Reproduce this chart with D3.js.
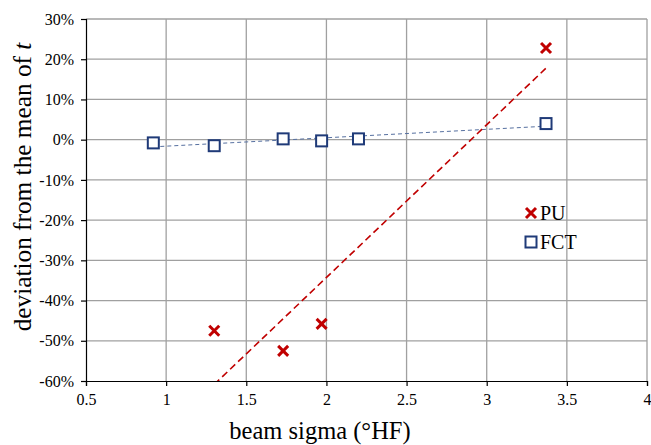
<!DOCTYPE html>
<html>
<head>
<meta charset="utf-8">
<script src="https://cdn.jsdelivr.net/npm/d3@7"></script>
<style>
  body { margin: 0; background: #fff; }
  svg, svg text { display: block; font-family: "Liberation Serif", "Times New Roman", serif; }
</style>
</head>
<body>
<svg id="chart" width="651" height="445"></svg>
<script>
// data
const puSigma = [1.30, 1.73, 1.97, 3.37];
const puDev = [-0.475, -0.525, -0.458, 0.228];
const fctSigma = [0.92, 1.30, 1.73, 1.97, 2.20, 3.37];
const fctDev = [-0.008, -0.015, 0.002, -0.003, 0.002, 0.040];
const xTicks = [0.5, 1, 1.5, 2, 2.5, 3, 3.5, 4];
const yTicks = [-0.6, -0.5, -0.4, -0.3, -0.2, -0.1, 0, 0.1, 0.2, 0.3];

const svg = d3.select("#chart");
const m = { left: 86, right: 4, top: 19, bottom: 64 };
const W = 651, H = 445;

const x = d3.scaleLinear().domain([0.5, 4]).range([m.left, W - m.right]);
const y = d3.scaleLinear().domain([-0.6, 0.3]).range([H - m.bottom, m.top]);

// gridlines
svg.append("g").selectAll("line").data(yTicks.slice(1)).enter().append("line")
  .attr("x1", x(0.5)).attr("x2", x(4))
  .attr("y1", d => y(d)).attr("y2", d => y(d))
  .attr("stroke", "#a0a0a0").attr("stroke-width", 1.3);
svg.append("g").selectAll("line").data(xTicks.slice(1)).enter().append("line")
  .attr("y1", y(-0.6)).attr("y2", y(0.3))
  .attr("x1", d => x(d)).attr("x2", d => x(d))
  .attr("stroke", "#a0a0a0").attr("stroke-width", 1.3);

// axes
const fmtPct = d => Math.round(d * 100) + "%";
const yAxis = svg.append("g").attr("transform", `translate(${x(0.5)},0)`)
  .call(d3.axisLeft(y).tickValues(yTicks).tickFormat(fmtPct).tickSize(5).tickPadding(7));
const xAxis = svg.append("g").attr("transform", `translate(0,${y(-0.6)})`)
  .call(d3.axisBottom(x).tickValues(xTicks).tickFormat(d3.format("")).tickSize(5).tickPadding(8));
[xAxis, yAxis].forEach(a => {
  a.attr("font-family", null).attr("font-size", null);
  a.selectAll("path, line").attr("stroke", "#000").attr("stroke-width", 1.2);
  a.selectAll("text").style("font-family", "'Liberation Serif', serif").style("font-size", "16px").attr("fill", "#000");
});

// linear trendlines (least squares over each series)
function fit(xs, ys) {
  const mx = d3.mean(xs), my = d3.mean(ys);
  const sxy = d3.sum(xs, (v, i) => (v - mx) * (ys[i] - my));
  const sxx = d3.sum(xs, v => (v - mx) * (v - mx));
  const b = sxy / sxx;
  return v => my + b * (v - mx);
}

svg.append("clipPath").attr("id", "plot").append("rect")
  .attr("x", x(0.5)).attr("y", y(0.3)).attr("width", x(4) - x(0.5)).attr("height", y(-0.6) - y(0.3));

const fctFit = fit(fctSigma, fctDev);
const puFit = fit(puSigma, puDev);
const trend = d3.line().x(d => x(d[0])).y(d => y(d[1]));

svg.append("path").attr("clip-path", "url(#plot)")
  .attr("d", trend(d3.extent(fctSigma).map(v => [v, fctFit(v)])))
  .attr("fill", "none").attr("stroke", "#5670a0").attr("stroke-width", 1)
  .attr("stroke-dasharray", "4,3");
svg.append("path").attr("clip-path", "url(#plot)")
  .attr("d", trend(d3.extent(puSigma).map(v => [v, puFit(v)])))
  .attr("fill", "none").attr("stroke", "#c00000").attr("stroke-width", 1.6)
  .attr("stroke-dasharray", "7,4");

// markers
const red = "#c00000", navy = "#1f3a78";
function cross(g, cx, cy) {
  const s = 5;
  g.append("path").attr("d", `M${cx - s},${cy - s}L${cx + s},${cy + s}M${cx - s},${cy + s}L${cx + s},${cy - s}`)
    .attr("stroke", red).attr("stroke-width", 3).attr("fill", "none");
}
function square(g, cx, cy) {
  g.append("rect").attr("x", cx - 5.5).attr("y", cy - 5.5).attr("width", 11).attr("height", 11)
    .attr("fill", "#fff").attr("stroke", navy).attr("stroke-width", 2);
}
const marks = svg.append("g");
fctSigma.forEach((v, i) => square(marks, x(v), y(fctDev[i])));
puSigma.forEach((v, i) => cross(marks, x(v), y(puDev[i])));

// legend
const leg = svg.append("g");
cross(leg, 531, 213);
leg.append("text").attr("x", 540).attr("y", 219.5).attr("font-size", 20).text("PU");
square(leg, 531, 242);
leg.append("text").attr("x", 540).attr("y", 249).attr("font-size", 20).text("FCT");

// axis titles
svg.append("text").attr("x", 320).attr("y", 439).attr("text-anchor", "middle")
  .attr("font-size", 24.5).text("beam sigma (°HF)");
const yt = svg.append("text").attr("transform", "translate(31,187) rotate(-90)")
  .attr("text-anchor", "middle").attr("font-size", 25.3);
yt.append("tspan").text("deviation from the mean of ");
yt.append("tspan").attr("font-style", "italic").text("t");
</script>
</body>
</html>
